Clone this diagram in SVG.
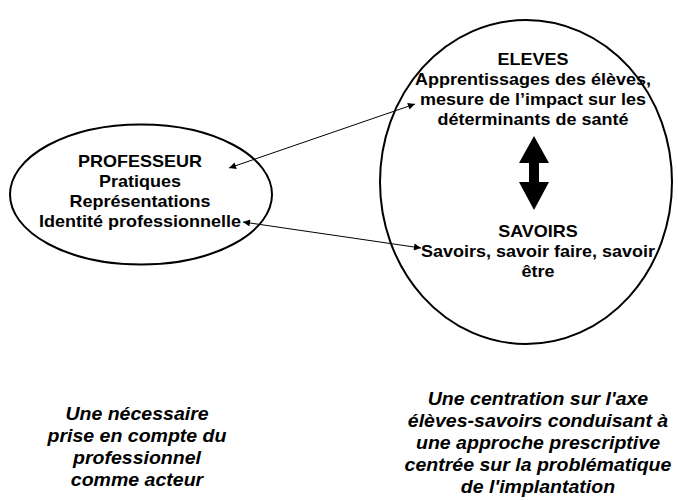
<svg xmlns="http://www.w3.org/2000/svg" width="678" height="500" viewBox="0 0 678 500">
<style>
.shape{fill:none;stroke:#000;stroke-width:2}
.t{font-family:"Liberation Sans",Arial,sans-serif;font-weight:bold;font-size:16.5px;text-anchor:middle;fill:#000}
.b{font-family:"Liberation Sans",Arial,sans-serif;font-weight:bold;font-style:italic;font-size:18px;text-anchor:middle;fill:#000}
.conn{stroke:#000;stroke-width:1;fill:none;marker-start:url(#ah);marker-end:url(#ah)}
</style>
<defs>
<marker id="ah" viewBox="0 0 10 10" refX="10" refY="5" markerWidth="8" markerHeight="7" markerUnits="userSpaceOnUse" orient="auto-start-reverse">
<path d="M0,0 L10,5 L0,10 z" fill="#000"/>
</marker>
</defs>
<rect width="678" height="500" fill="#fff"/>
<g id="professeur">
<ellipse class="shape" cx="141" cy="194.5" rx="131" ry="70"/>
<g transform="translate(140 0) scale(1.09 1)">
<text class="t" x="0" y="167">PROFESSEUR</text>
<text class="t" x="0" y="187">Pratiques</text>
<text class="t" x="0" y="207">Représentations</text>
<text class="t" x="0" y="227">Identité professionnelle</text>
</g>
</g>
<g id="eleves-savoirs">
<ellipse class="shape" cx="526" cy="182" rx="146" ry="162"/>
<g transform="translate(533 0) scale(1.09 1)">
<text class="t" x="0" y="65">ELEVES</text>
<text class="t" x="0" y="85">Apprentissages des élèves,</text>
<text class="t" x="0" y="105">mesure de l’impact sur les</text>
<text class="t" x="0" y="125">déterminants de santé</text>
</g>
<g transform="translate(538 0) scale(1.09 1)">
<text class="t" x="0" y="237">SAVOIRS</text>
<text class="t" x="0" y="257">Savoirs, savoir faire, savoir</text>
<text class="t" x="0" y="277">être</text>
</g>
<path d="M534,136 L549,163 L539,163 L539,182 L549,182 L534,210 L519,182 L529,182 L529,163 L519,163 Z" fill="#000"/>
</g>
<g id="connectors">
<line class="conn" x1="229" y1="168" x2="415" y2="104"/>
<line class="conn" x1="243" y1="222" x2="421" y2="248"/>
</g>
<g id="note-left" transform="translate(137 0) scale(1.085 1)">
<text class="b" x="0" y="420">Une nécessaire</text>
<text class="b" x="0" y="442">prise en compte du</text>
<text class="b" x="0" y="464">professionnel</text>
<text class="b" x="0" y="486">comme acteur</text>
</g>
<g id="note-right" transform="translate(538 0) scale(1.085 1)">
<text class="b" x="0" y="405">Une centration sur l'axe</text>
<text class="b" x="0" y="427">élèves-savoirs conduisant à</text>
<text class="b" x="0" y="449">une approche prescriptive</text>
<text class="b" x="0" y="471">centrée sur la problématique</text>
<text class="b" x="0" y="493">de l'implantation</text>
</g>
</svg>
